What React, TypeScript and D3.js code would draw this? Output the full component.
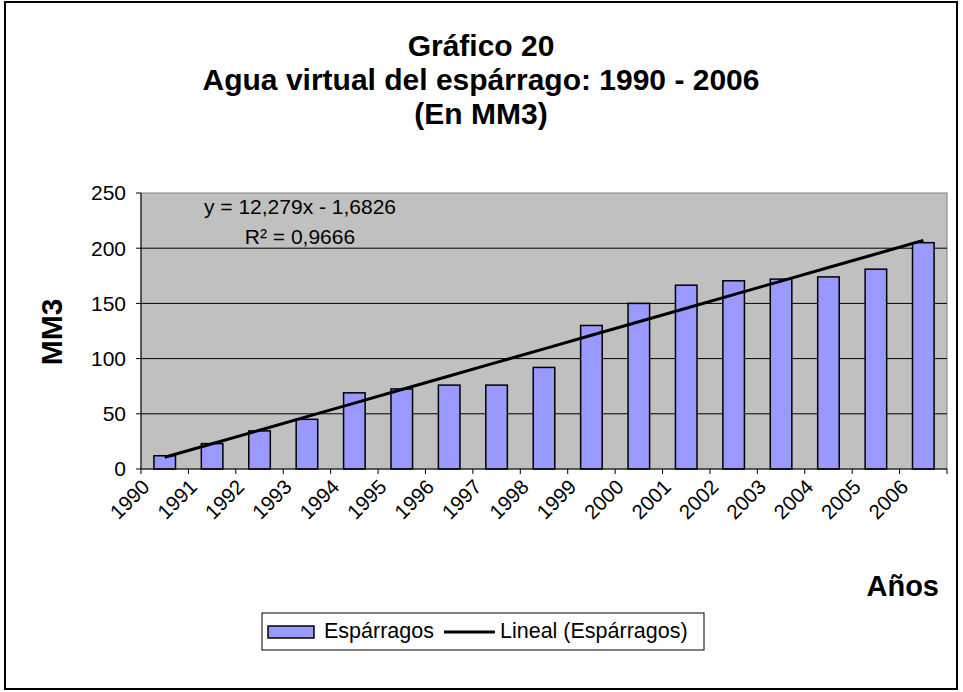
import React from "react";
import * as d3 from "d3";

const years = ["1990","1991","1992","1993","1994","1995","1996","1997","1998","1999","2000","2001","2002","2003","2004","2005","2006"];
const values = [12, 23, 34.5, 45, 69, 72.5, 76, 76, 92, 130, 150, 166.5, 170.5, 172, 174, 181, 205];
const yTicks = [0, 50, 100, 150, 200, 250];
const trendSlope = 12.279;
const trendIntercept = -1.6826;
const titleLines = ["Gráfico 20", "Agua virtual del espárrago: 1990 - 2006", "(En MM3)"];
const eqLines = ["y = 12,279x - 1,6826", "R² = 0,9666"];

const W = 963, H = 692;
const FONT = "'Liberation Sans', Arial, sans-serif";

export default function App() {
  const left = 141, right = 947, top = 193, bottom = 469;
  const x = d3.scaleBand<string>().domain(years).range([left, right]).padding(0);
  const step = x.step();
  const bw = step / 2.2;
  const y = d3.scaleLinear().domain([0, 250]).range([bottom, top]);
  const cx = (yr: string) => (x(yr) as number) + step / 2;
  const trendPts: [number, number][] = years.map((yr, i) => [cx(yr), y(trendSlope * (i + 1) + trendIntercept)]);
  const line = d3.line();
  const boundaries = d3.range(years.length + 1).map(i => left + i * step);

  return (
    <svg width={W} height={H} style={{ position: "absolute", left: 0, top: 0, background: "#fff" }} fontFamily={FONT}>
      <rect x={5} y={2} width={952} height={687} fill="#fff" stroke="#000" strokeWidth={2} />
      {titleLines.map((t, i) => (
        <text key={t} x={481} y={56 + i * 34} textAnchor="middle" fontSize={30} fontWeight="bold">{t}</text>
      ))}
      <rect x={left} y={top} width={right - left} height={bottom - top} fill="#C0C0C0" stroke="#808080" strokeWidth={1} />
      {yTicks.filter(v => v > 0 && v < 250).map(v => (
        <line key={v} x1={left} x2={right} y1={y(v)} y2={y(v)} stroke="#000" strokeWidth={1} />
      ))}
      {values.map((v, i) => (
        <rect key={years[i]} x={cx(years[i]) - bw / 2} y={y(v)} width={bw} height={bottom - y(v)} fill="#9999FF" stroke="#000" strokeWidth={1.5} />
      ))}
      <path d={line(trendPts) || ""} fill="none" stroke="#000" strokeWidth={3} />
      <line x1={left} x2={left} y1={top} y2={bottom} stroke="#000" strokeWidth={1} />
      <line x1={left} x2={right} y1={bottom} y2={bottom} stroke="#000" strokeWidth={1} />
      {yTicks.map(v => (
        <g key={v}>
          <line x1={left - 5} x2={left} y1={y(v)} y2={y(v)} stroke="#000" />
          <text x={126} y={y(v)} dy="0.35em" textAnchor="end" fontSize={21}>{v}</text>
        </g>
      ))}
      {boundaries.map((b, i) => (
        <line key={i} x1={b} x2={b} y1={bottom} y2={bottom + 5} stroke="#000" />
      ))}
      {years.map(yr => (
        <text key={yr} transform={`translate(${cx(yr) - 24},${bottom + 9}) rotate(-45)`} textAnchor="end" dy="0.7em" fontSize={20.5}>{yr}</text>
      ))}
      {eqLines.map((t, i) => (
        <text key={t} x={300} y={214 + i * 30} textAnchor="middle" fontSize={21}>{t}</text>
      ))}
      <text transform={`translate(62,332) rotate(-90)`} textAnchor="middle" fontSize={30} fontWeight="bold">MM3</text>
      <text x={939} y={596} textAnchor="end" fontSize={29} fontWeight="bold">Años</text>
      <rect x={262} y={613} width={442} height={37} fill="#fff" stroke="#000" strokeWidth={1} />
      <rect x={268} y={626} width={46} height={12} fill="#9999FF" stroke="#000" strokeWidth={1.5} />
      <text x={324} y={638} fontSize={21.5}>Espárragos</text>
      <line x1={444} x2={495} y1={632} y2={632} stroke="#000" strokeWidth={3} />
      <text x={500} y={638} fontSize={21.5}>Lineal (Espárragos)</text>
    </svg>
  );
}
